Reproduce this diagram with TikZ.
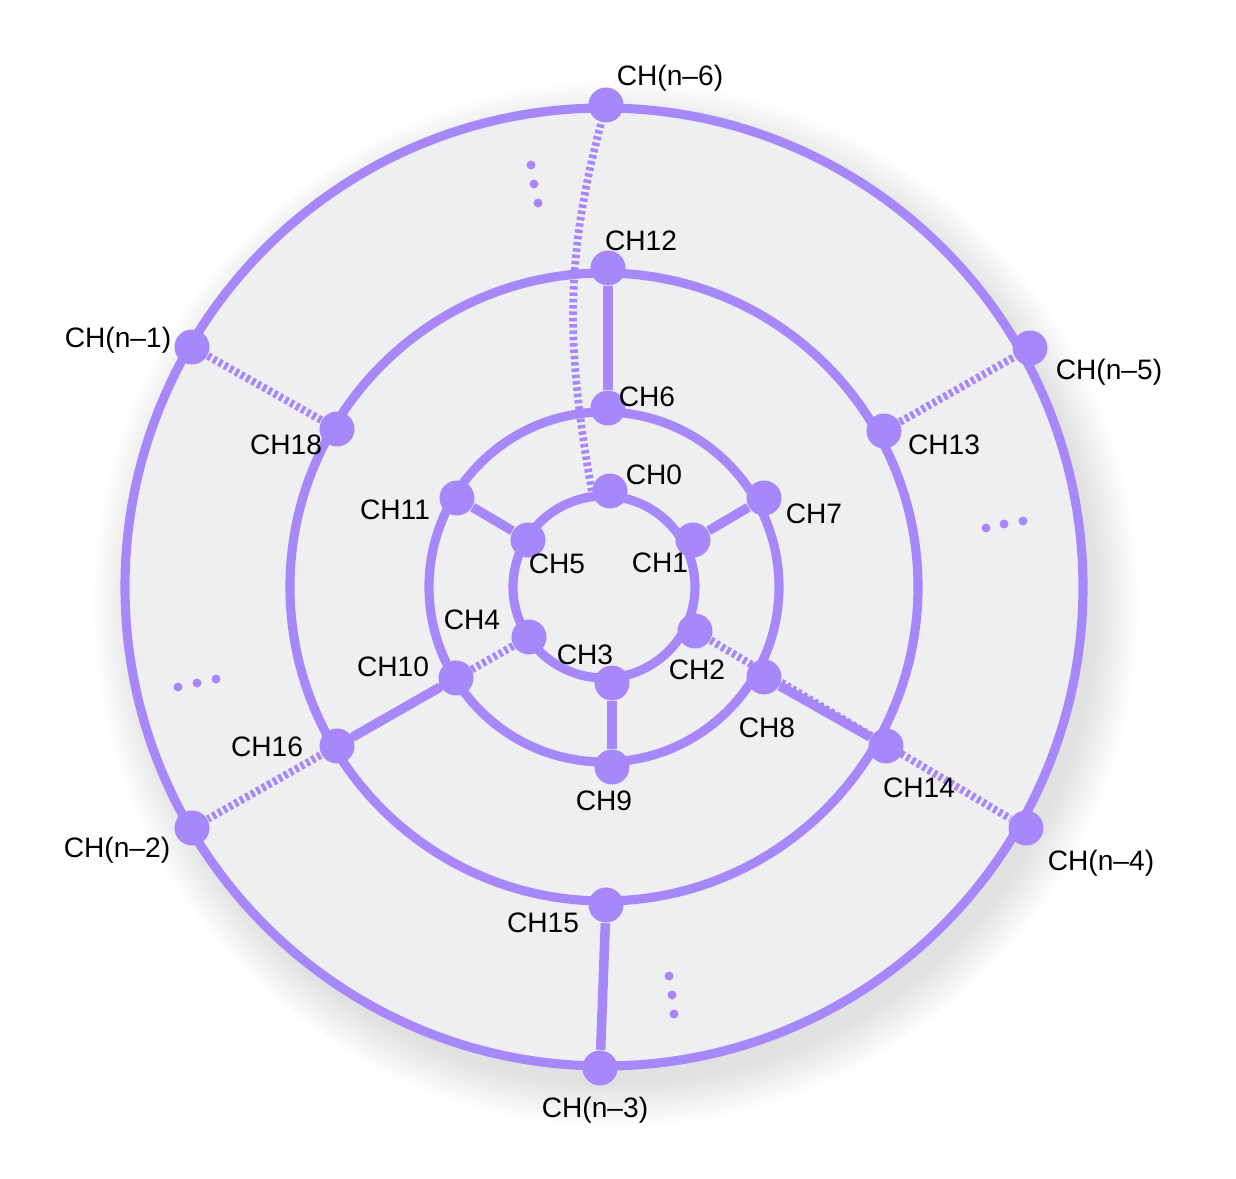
\documentclass[tikz,border=0pt]{standalone}
\usepackage{fontspec}
\setmainfont{Liberation Sans}
\definecolor{chpurple}{RGB}{167,136,250}
\definecolor{chdisk}{RGB}{239,239,242}

\begin{document}
\begin{tikzpicture}[x=0.01cm, y=0.01cm,
  ringline/.style={draw=chpurple, line width=2.6pt},
  chdot/.style={circle, fill=chpurple, inner sep=0pt, minimum size=0.35cm},
  link/.style={chpurple, line width=2.7pt},
  dlink/.style={chpurple, line width=2.2pt, dash pattern=on 1pt off 0.8pt},
  chlbl/.style={inner sep=0pt, text height=5.8pt, text depth=0pt,
    font=\fontsize{8pt}{9pt}\selectfont}]

  \useasboundingbox (0,0) rectangle (1236,1178);

  % Soft shadow under the disk
  \foreach \i in {0,...,29}
    \fill[black, opacity=0.005] (616,574) circle ({480+1.5*\i});

  % Disk and rings
  \filldraw[fill=chdisk, ringline] (604,591) circle (479);
  \foreach \r in {314,175,91}
    \draw[ringline] (604,591) circle (\r);

  % Ring 1
  \node[chdot] (ch0) at (610,687) {};
  \node[chdot] (ch1) at (693,638) {};
  \node[chdot] (ch2) at (695,547) {};
  \node[chdot] (ch3) at (612,495) {};
  \node[chdot] (ch4) at (529,541) {};
  \node[chdot] (ch5) at (528,638) {};

  % Ring 2
  \node[chdot] (ch6) at (608,770) {};
  \node[chdot] (ch7) at (764,680) {};
  \node[chdot] (ch8) at (764,501) {};
  \node[chdot] (ch9) at (612,411) {};
  \node[chdot] (ch10) at (456,500) {};
  \node[chdot] (ch11) at (457,680) {};

  % Ring 3
  \node[chdot] (ch12) at (608,910) {};
  \node[chdot] (ch13) at (884,747) {};
  \node[chdot] (ch14) at (886,432) {};
  \node[chdot] (ch15) at (606,273) {};
  \node[chdot] (ch16) at (337,432) {};
  \node[chdot] (ch18) at (337,749) {};

  % Outer ring
  \node[chdot] (chn6) at (606,1073) {};
  \node[chdot] (chn5) at (1030,830) {};
  \node[chdot] (chn4) at (1026,350) {};
  \node[chdot] (chn3) at (600,110) {};
  \node[chdot] (chn2) at (192,350) {};
  \node[chdot] (chn1) at (192,831) {};

  % Solid links
  \draw[link] (ch6) -- (ch12);
  \draw[link] (ch5) -- (ch11);
  \draw[link] (ch1) -- (ch7);
  \draw[link] (ch3) -- (ch9);
  \draw[link] (ch8) -- (ch14);
  \draw[link] (ch10) -- (ch16);
  \draw[link] (ch15) -- (chn3);

  % Dotted links
  \draw[dlink] (ch0.west) to[out=100, in=255] (chn6);
  \draw[dlink] (ch2) -- (chn4);
  \draw[dlink] (ch4) -- (chn2);
  \draw[dlink] (ch18) -- (chn1);
  \draw[dlink] (ch13) -- (chn5);

  % Ellipsis dots
  \foreach \x/\y in {531/1013, 534/994, 538/975, 986/650, 1004/654, 1023/657,
                     178/491, 197/495, 216/499, 669/202, 672/183, 674/164}
    \fill[chpurple] (\x,\y) circle (4.5);

  % Labels
  \node[chlbl] (l0) at (654,704) {CH0};
  \node[chlbl] (l1) at (660,616) {CH1};
  \node[chlbl] (l2) at (697,509) {CH2};
  \node[chlbl] (l3) at (585,524) {CH3};
  \node[chlbl] (l4) at (472,559) {CH4};
  \node[chlbl] (l5) at (557,615) {CH5};
  \node[chlbl] (l6) at (647,782) {CH6};
  \node[chlbl] (l7) at (814,665) {CH7};
  \node[chlbl] (l8) at (767,451) {CH8};
  \node[chlbl] (l9) at (604,378) {CH9};
  \node[chlbl] (l10) at (393,512) {CH10};
  \node[chlbl] (l11) at (395,669) {CH11};
  \node[chlbl] (l12) at (641,938) {CH12};
  \node[chlbl] (l13) at (944,734) {CH13};
  \node[chlbl] (l14) at (919,391) {CH14};
  \node[chlbl] (l15) at (543,256) {CH15};
  \node[chlbl] (l16) at (267,432) {CH16};
  \node[chlbl] (l18) at (286,734) {CH18};
  \node[chlbl] (ln6) at (670,1103) {CH(n--6)};
  \node[chlbl] (ln5) at (1109,809) {CH(n--5)};
  \node[chlbl] (ln4) at (1101,318) {CH(n--4)};
  \node[chlbl] (ln3) at (595,71) {CH(n--3)};
  \node[chlbl] (ln2) at (117,331) {CH(n--2)};
  \node[chlbl] (ln1) at (118,841) {CH(n--1)};
\end{tikzpicture}
\end{document}
